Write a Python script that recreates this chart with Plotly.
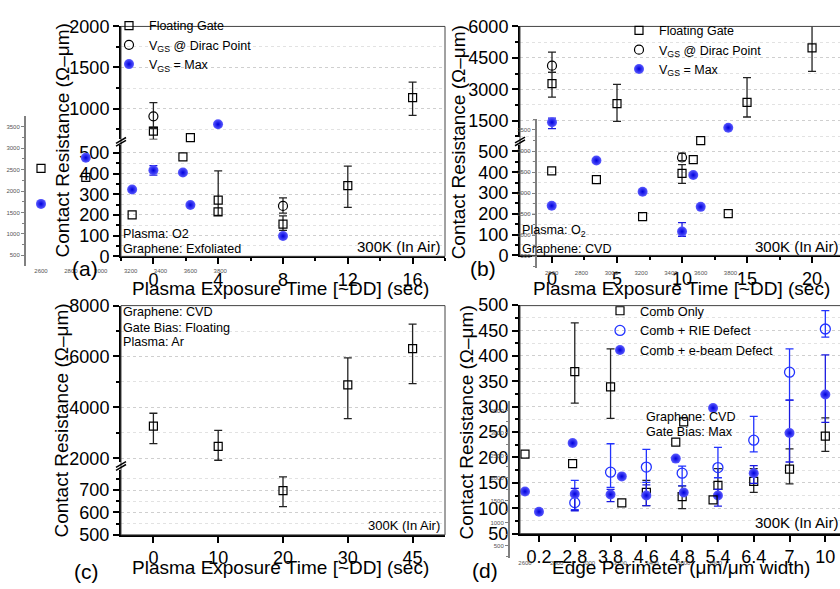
import plotly.graph_objects as go

W, H = 840, 589
FONT = "Liberation Sans, Arial, Helvetica, sans-serif"


def PX(x):
    return x / W


def PY(y):
    return 1 - y / H


# ---------------- data ----------------
# Panel (a): O2 plasma, exfoliated graphene
a_float_x_up = [0, 16]
a_float_up = [726, 1133]
a_float_up_plus = [44, 188]
a_float_up_minus = [100, 215]
a_float_x_lo = [4, 8, 12]
a_float_lo = [272, 156, 342]
a_float_lo_plus = [141, 40, 94]
a_float_lo_minus = [74, 30, 105]
a_dirac_x_up = [0]
a_dirac_up = [905]
a_dirac_up_plus = [168]
a_dirac_up_minus = [150]
a_dirac_x_lo = [8]
a_dirac_lo = [244]
a_dirac_lo_plus = [39]
a_dirac_lo_minus = [35]
a_max_x_lo = [0, 8]
a_max_lo = [416, 98]
a_max_lo_plus = [23, None]
a_max_lo_minus = [23, None]

# Panel (b): O2 plasma, CVD graphene
b_float_x_up = [0, 5, 15, 20]
b_float_up = [3263, 2308, 2372, 4970]
b_float_up_plus = [537, 922, 1182, 1150]
b_float_up_minus = [646, 848, 702, 1120]
b_float_x_lo = [10]
b_float_lo = [395]
b_float_lo_plus = [42]
b_float_lo_minus = [48]
b_dirac_x_up = [0]
b_dirac_up = [4125]
b_dirac_up_plus = [645]
b_dirac_up_minus = [325]
b_dirac_x_lo = [10]
b_dirac_lo = [471]
b_dirac_lo_plus = [21]
b_dirac_lo_minus = [15]
b_max_x_up = [0]
b_max_up = [1420]
b_max_up_plus = [200]
b_max_up_minus = [305]
b_max_x_lo = [10]
b_max_lo = [115]
b_max_lo_plus = [43]
b_max_lo_minus = [23]

# Panel (c): Ar plasma, CVD graphene, floating gate
c_labels = ["0", "10", "20", "30", "45"]
c_up_cat = ["0", "10", "30", "45"]
c_up = [3264, 2467, 4884, 6311]
c_up_plus = [506, 633, 1063, 964]
c_up_minus = [684, 543, 1328, 1377]
c_lo_cat = ["20"]
c_lo = [697]
c_lo_plus = [62]
c_lo_minus = [71]

# Panel (d): edge perimeter
d_labels = ["0.2", "2.8", "3.8", "4.6", "4.8", "5.4", "6.4", "7", "10"]
d_comb_cat = ["2.8", "3.8", "4.6", "4.8", "5.4", "6.4", "7", "10"]
d_comb = [369, 339, 131, 123, 145, 153, 177, 242]
d_comb_plus = [96, 75, 24, 21, 33, 25, 40, 36]
d_comb_minus = [62, 62, 26, 24, 20, 22, 29, 30]
d_rie_cat = ["2.8", "3.8", "4.6", "4.8", "5.4", "6.4", "7", "10"]
d_rie = [111, 171, 181, 169, 180, 234, 368, 453]
d_rie_plus = [44, 56, 35, 14, 40, 47, 46, 36]
d_rie_minus = [14, 30, 30, 25, 20, 23, 55, 16]
d_ebeam_cat = ["0.2", "2.8", "3.8", "4.6", "5.4", "6.4", "7", "10"]
d_ebeam = [93, 128, 127, 125, 125, 169, 248, 324]
d_ebeam_plus = [5, 11, 10, 21, 12, 15, 65, 78]
d_ebeam_minus = [5, 33, 14, 20, 21, 20, 57, 55]

# stray overlaid inset (appears in panels a, b, d)
ghost_x = [2600, 2900, 3210, 3550, 3600, 3785]
ghost_sq = [2530, 2320, 1445, 2795, 3245, 1515]
ghost_ball = [1700, 2775, 2035, 2430, 1675, 3555]
ghost_xticks = [2600, 2800, 3000, 3200, 3400, 3600, 3800]
ghost_yticks = [500, 1000, 1500, 2000, 2500, 3000, 3500]

# ---------------- styles ----------------
MARK = {
    "sq": dict(symbol="square-open", size=8, color="black", line=dict(width=1.2, color="black")),
    "circ": dict(symbol="circle-open", size=9, color="black", line=dict(width=1.2, color="black")),
    "circb": dict(symbol="circle-open", size=10, color="#2233ff", line=dict(width=1.3, color="#2233ff")),
    "ball": dict(symbol="circle", size=10, color="#5a5aff",
                 gradient=dict(type="radial", color="#0000dd"), line=dict(width=0)),
}
ERRC = {"sq": "#222222", "circ": "#222222", "circb": "#2233ff", "ball": "#1a1ae0"}

fig = go.Figure()


def add(x, y, xa, ya, kind, plus=None, minus=None, name=None, legend=None):
    tr = dict(x=x, y=y, xaxis=xa, yaxis=ya, mode="markers", marker=MARK[kind],
              cliponaxis=False, hoverinfo="skip")
    if plus is not None:
        tr["error_y"] = dict(type="data", symmetric=False, array=plus, arrayminus=minus,
                             color=ERRC[kind], thickness=1.3, width=4)
    if name is not None:
        tr["name"] = name
        tr["showlegend"] = True
        tr["legend"] = legend
    else:
        tr["showlegend"] = False
    fig.add_trace(go.Scatter(**tr))


VGS_D = "V<sub>GS</sub> @ Dirac Point"
VGS_M = "V<sub>GS</sub> = Max"

# panel a
add(a_float_x_up, a_float_up, "x", "y2", "sq", a_float_up_plus, a_float_up_minus, "Floating Gate", "legend")
add(a_dirac_x_up, a_dirac_up, "x", "y2", "circ", a_dirac_up_plus, a_dirac_up_minus, VGS_D, "legend")
add(a_max_x_lo, a_max_lo, "x", "y", "ball", a_max_lo_plus, a_max_lo_minus, VGS_M, "legend")
add(a_float_x_lo, a_float_lo, "x", "y", "sq", a_float_lo_plus, a_float_lo_minus)
add(a_dirac_x_lo, a_dirac_lo, "x", "y", "circ", a_dirac_lo_plus, a_dirac_lo_minus)

# panel b
add(b_float_x_up, b_float_up, "x2", "y4", "sq", b_float_up_plus, b_float_up_minus, "Floating Gate", "legend2")
add(b_dirac_x_up, b_dirac_up, "x2", "y4", "circ", b_dirac_up_plus, b_dirac_up_minus, VGS_D, "legend2")
add(b_max_x_up, b_max_up, "x2", "y4", "ball", b_max_up_plus, b_max_up_minus, VGS_M, "legend2")
add(b_float_x_lo, b_float_lo, "x2", "y3", "sq", b_float_lo_plus, b_float_lo_minus)
add(b_dirac_x_lo, b_dirac_lo, "x2", "y3", "circ", b_dirac_lo_plus, b_dirac_lo_minus)
add(b_max_x_lo, b_max_lo, "x2", "y3", "ball", b_max_lo_plus, b_max_lo_minus)

# panel c
add([c_labels.index(c) for c in c_up_cat], c_up, "x3", "y6", "sq", c_up_plus, c_up_minus)
add([c_labels.index(c) for c in c_lo_cat], c_lo, "x3", "y5", "sq", c_lo_plus, c_lo_minus)

# panel d
add([d_labels.index(c) for c in d_comb_cat], d_comb, "x4", "y7", "sq", d_comb_plus, d_comb_minus,
    "Comb Only", "legend3")
add([d_labels.index(c) for c in d_rie_cat], d_rie, "x4", "y7", "circb", d_rie_plus, d_rie_minus,
    "Comb + RIE Defect", "legend3")
add([d_labels.index(c) for c in d_ebeam_cat], d_ebeam, "x4", "y7", "ball", d_ebeam_plus, d_ebeam_minus,
    "Comb + e-beam Defect", "legend3")

# stray inset markers
for xa, ya in (("x5", "y8"), ("x6", "y9"), ("x7", "y10")):
    add(ghost_x, ghost_sq, xa, ya, "sq")
    add(ghost_x, ghost_ball, xa, ya, "ball")

# ---------------- axes ----------------
TICKFONT = dict(size=18, color="black", family=FONT)


def yax(dom, rng, anchor, tickvals, minor_dtick):
    return dict(domain=[PY(dom[0]), PY(dom[1])], range=rng, anchor=anchor,
                showline=True, linecolor="black", linewidth=2,
                ticks="outside", ticklen=6, tickwidth=1.5, tickcolor="black",
                tickvals=tickvals, tickfont=TICKFONT, zeroline=False,
                showgrid=True, gridcolor="#cfcfcf", griddash="dot", gridwidth=1,
                minor=dict(dtick=minor_dtick, ticks="outside", ticklen=3, tickcolor="black",
                           showgrid=True, gridcolor="#e2e2e2", griddash="dot"))


def xax(dom, rng, anchor, tickvals, ticktext=None, minor_dtick=None):
    d = dict(domain=[PX(dom[0]), min(1.0, PX(dom[1]))], range=rng, anchor=anchor,
             showline=True, linecolor="black", linewidth=2,
             ticks="outside", ticklen=6, tickwidth=1.5, tickcolor="black",
             tickvals=tickvals, tickfont=TICKFONT, zeroline=False, showgrid=False)
    if ticktext is not None:
        d["ticktext"] = ticktext
    if minor_dtick is not None:
        d["minor"] = dict(dtick=minor_dtick, ticks="outside", ticklen=3, tickcolor="black")
    return d


def gx(dom, rng, anchor):
    return dict(domain=[PX(dom[0]), PX(dom[1])], range=rng, anchor=anchor, showline=False,
                ticks="", tickvals=ghost_xticks, showgrid=False, zeroline=False,
                tickfont=dict(size=6, color="#555", family=FONT))


def gy(dom, rng, anchor):
    return dict(domain=[PY(dom[0]), PY(dom[1])], range=rng, anchor=anchor, showline=True,
                linecolor="#808080", linewidth=2, ticks="outside", ticklen=3, tickcolor="#808080",
                tickvals=ghost_yticks, showgrid=False, zeroline=False,
                tickfont=dict(size=6, color="#555", family=FONT),
                minor=dict(dtick=250, ticks="outside", ticklen=2, tickcolor="#808080"))


layout = dict(
    width=W, height=H, margin=dict(l=0, r=0, t=0, b=0),
    paper_bgcolor="white", plot_bgcolor="rgba(0,0,0,0)",
    font=dict(family=FONT, color="black"),
    # panel a
    xaxis=xax((121, 445), [-2, 18], "y", [0, 4, 8, 12, 16], minor_dtick=2),
    yaxis=yax((255, 139.4), [0, 540], "x", [0, 100, 200, 300, 400, 500], 50),
    yaxis2=yax((134, 17), [624, 2000], "x", [1000, 1500, 2000], 250),
    # panel b
    xaxis2=xax((520, 845), [-2.46, 22.15], "y3", [0, 5, 10, 15, 20], minor_dtick=2.5),
    yaxis3=yax((254, 140), [0, 530], "x2", [0, 100, 200, 300, 400, 500], 50),
    yaxis4=yax((131.8, 17), [700, 6000], "x2", [1500, 3000, 4500, 6000], 750),
    # panel c
    xaxis3=xax((121, 445), [-0.5, 4.5], "y5", list(range(len(c_labels))), c_labels),
    yaxis5=yax((543.3, 476), [500, 790], "x3", [500, 600, 700], 50),
    yaxis6=yax((468, 306), [1850, 8000], "x3", [2000, 4000, 6000, 8000], 1000),
    # panel d
    xaxis4=xax((520, 845), [-0.53, 8.41], "y7", list(range(len(d_labels))), d_labels),
    yaxis7=yax((542, 305.5), [50, 500], "x4", list(range(50, 501, 50)), 25),
    # stray insets
    xaxis5=gx((26, 240), [2499.6, 3932], "y8"),
    yaxis8=gy((265, 110), [252.3, 3743], "x5"),
    xaxis6=gx((536.7, 760), [2499.3, 3998], "y9"),
    yaxis9=gy((267, 113), [224.8, 3757], "x6"),
    xaxis7=gx((510, 730), [2505.5, 3891.7], "y10"),
    yaxis10=gy((567, 405), [227.5, 3704], "x7"),
)

LEG = dict(bgcolor="rgba(0,0,0,0)", borderwidth=0, xanchor="left", yanchor="top",
           tracegroupgap=0, itemclick=False)
layout["legend"] = dict(LEG, x=PX(109), y=PY(1), font=dict(size=12.5, family=FONT))
layout["legend2"] = dict(LEG, x=PX(619), y=PY(6), font=dict(size=12.5, family=FONT))
layout["legend3"] = dict(LEG, x=PX(600), y=PY(296), font=dict(size=12.8, family=FONT))

shapes = []
# frames
for (x0, y0, x1, y1) in ((121, 17, 445, 255), (520, 17, 860, 254), (121, 306, 445, 543.3), (520, 306, 860, 542)):
    shapes.append(dict(type="rect", xref="paper", yref="paper", x0=PX(x0), x1=PX(x1), y0=PY(y1), y1=PY(y0),
                       line=dict(color="#444", width=1)))
# axis break marks
for (bx, by) in ((121, 136.5), (520, 136), (121, 472)):
    shapes.append(dict(type="line", xref="paper", yref="paper", x0=PX(bx - 5), y0=PY(by + 1.5),
                       x1=PX(bx + 5), y1=PY(by - 4.5), line=dict(color="black", width=1.5)))
    shapes.append(dict(type="line", xref="paper", yref="paper", x0=PX(bx - 5), y0=PY(by + 4.5),
                       x1=PX(bx + 5), y1=PY(by - 1.5), line=dict(color="black", width=1.5)))
layout["shapes"] = shapes


def ann(text, x, y, size, xanchor="center", angle=0):
    return dict(text=text, x=PX(x), y=PY(y), xref="paper", yref="paper", showarrow=False,
                xanchor=xanchor, yanchor="middle", textangle=angle,
                font=dict(size=size, color="black", family=FONT))


YT = "Contact Resistance (\u03a9\u2013\u03bcm)"
XT = "Plasma Exposure Time [~DD] (sec)"
anns = [
    ann(YT, 62, 135, 19, angle=-90),
    ann(YT, 458, 137, 19, angle=-90),
    ann(YT, 62, 425, 19, angle=-90),
    ann(YT, 467, 427, 19, angle=-90),
    ann(XT, 280, 288, 19),
    ann(XT, 681, 288, 19),
    ann(XT, 280, 577, 19),
    ann("Edge Perimeter (\u03bcm/\u03bcm width)", 681, 577, 19),
    ann("(a)", 85, 268, 21), ann("(b)", 483, 268, 21),
    ann("(c)", 86, 581, 21), ann("(d)", 485, 580, 21),
    ann("Plasma: O2", 121, 232, 12.6, "left"),
    ann("Graphene: Exfoliated", 121, 247, 12.6, "left"),
    ann("300K (In Air)", 442, 245, 15, "right"),
    ann("Plasma: O<sub>2</sub>", 520, 229, 12.6, "left"),
    ann("Graphene: CVD", 520, 247, 12.6, "left"),
    ann("300K (In Air)", 840, 245, 15, "right"),
    ann("Graphene: CVD", 121, 313, 12.6, "left"),
    ann("Gate Bias: Floating", 121, 329, 12.6, "left"),
    ann("Plasma: Ar", 121, 344, 12.6, "left"),
    ann("300K (In Air)", 442, 534, 13, "right"),
    ann("Graphene: CVD", 644, 421, 12.6, "left"),
    ann("Gate Bias: Max", 644, 437, 12.6, "left"),
    ann("300K (In Air)", 840, 531, 15, "right"),
]
layout["annotations"] = anns

fig.update_layout(**layout)
fig.write_html("out.html")
